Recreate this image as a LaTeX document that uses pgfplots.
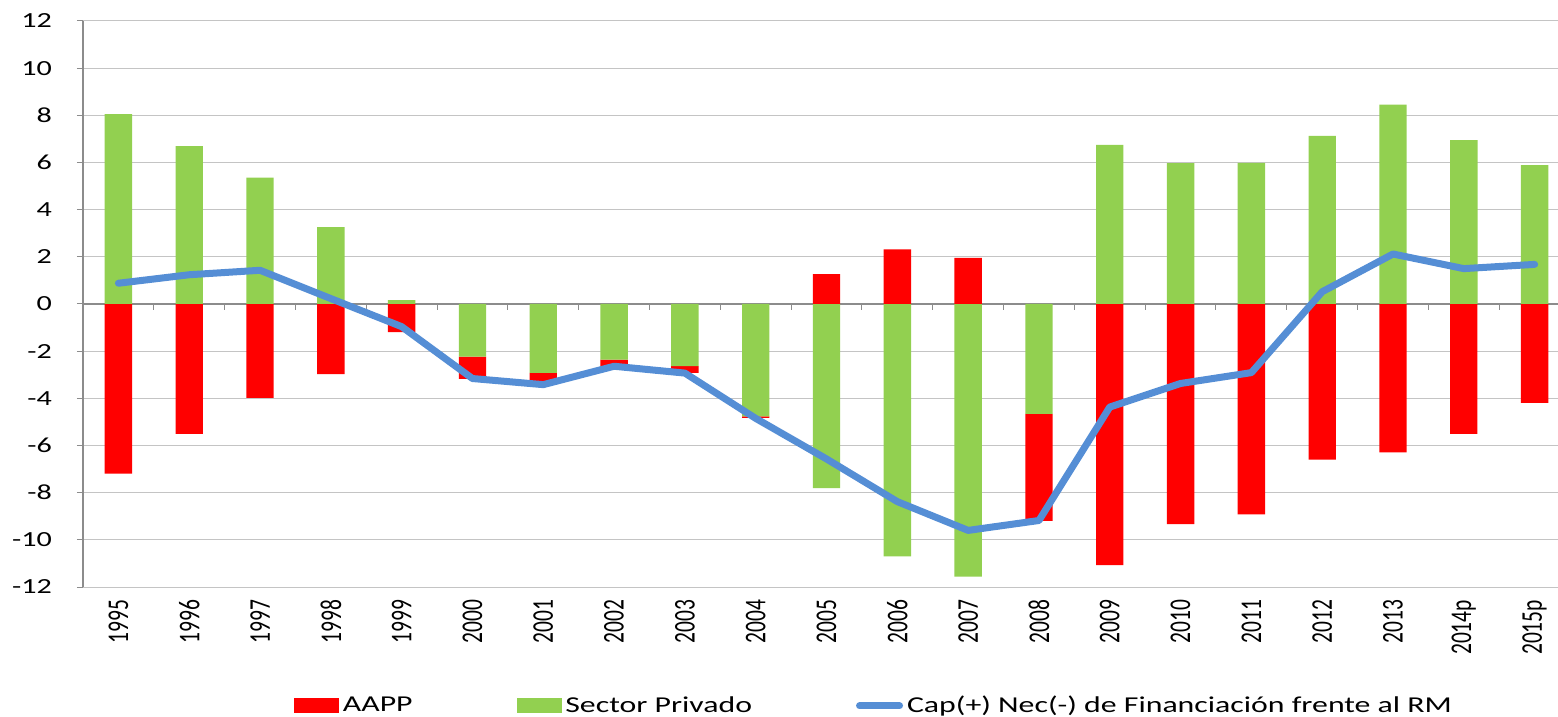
\documentclass[border=0pt]{standalone}
\usepackage{fontspec}
\setmainfont{Carlito}[FakeStretch=1.4]
\newfontfamily\rotfont{Carlito}[FakeStretch=0.714]
\usepackage{pgfplots}
\usepackage{pgfplotstable}
\pgfplotsset{compat=1.18}
\definecolor{aapp}{HTML}{FF0000}
\definecolor{priv}{HTML}{92D050}
\definecolor{capnec}{HTML}{558ED5}
\definecolor{gridc}{HTML}{C4C4C4}
\definecolor{axc}{HTML}{8C8C8C}

\pgfplotstableread{
x g r line
0 8.05 -7.19 0.88
1 6.69 -5.51 1.24
2 5.36 -3.98 1.43
3 3.26 -2.97 0.23
4 0.16 -1.19 -0.96
5 -2.23 -0.95 -3.16
6 -2.92 -0.43 -3.42
7 -2.36 -0.28 -2.64
8 -2.63 -0.29 -2.93
9 -4.76 -0.07 -4.85
10 -7.81 1.27 -6.57
11 -10.70 2.32 -8.38
12 -11.56 1.96 -9.60
13 -4.66 -4.54 -9.18
14 6.75 -11.07 -4.37
15 5.97 -9.33 -3.37
16 5.98 -8.92 -2.91
17 7.13 -6.60 0.52
18 8.45 -6.29 2.12
19 6.95 -5.51 1.50
20 5.89 -4.19 1.68
}\datatable

\begin{document}
\begin{tikzpicture}
\pgfplotsset{common/.style={width=737.5bp, height=283bp, scale only axis,
  xmin=-0.5, xmax=20.33, ymin=-12, ymax=12, bar width=0.386}}
% axis A: grid, ticks, negative stacks
\begin{axis}[common, name=A, ybar stacked,
  axis lines*=left, axis line style={-},
  x axis line style={draw=none},
  y axis line style={axc, line width=0.6bp},
  ytick={-12,-10,...,12}, ymajorgrids,
  grid style={gridc, line width=0.5bp},
  tick align=outside, major tick length=3bp,
  ytick style={axc, line width=0.5bp},
  xtick={0,...,20}, x tick style={draw=none},
  xticklabels={1995,1996,1997,1998,1999,2000,2001,2002,2003,2004,2005,2006,2007,2008,2009,2010,2011,2012,2013,2014p,2015p},
  xticklabel style={rotate=90, anchor=east, font=\rotfont\fontsize{15.1}{16}\selectfont},
  yticklabel style={font=\fontsize{10.8}{13}\selectfont, xshift=-9bp},
  /pgf/number format/assume math mode=true,
]
\addplot[fill=priv, draw=none] table[x=x, y expr={min(\thisrow{g},0)}] {\datatable};
\addplot[fill=aapp, draw=none] table[x=x, y expr={min(\thisrow{r},0)}] {\datatable};
\draw[axc, line width=0.6bp] (axis cs:-0.5,0) -- (axis cs:20.33,0);
\pgfplotsinvokeforeach{0.5,1.5,...,19.5}{\draw[axc, line width=0.5bp] (axis cs:#1,0) -- ([yshift=-3bp]axis cs:#1,0);}
\end{axis}
% axis B: positive stacks
\begin{axis}[common, hide axis, ybar stacked]
\addplot[fill=priv, draw=none] table[x=x, y expr={max(\thisrow{g},0)}] {\datatable};
\addplot[fill=aapp, draw=none] table[x=x, y expr={max(\thisrow{r},0)}] {\datatable};
\end{axis}
% axis C: line and legend
\begin{axis}[common, hide axis,
  legend style={at={(0.537,-0.21)}, anchor=center, draw=none, fill=none,
    font=\fontsize{11.4}{13}\selectfont,
    /tikz/every even column/.append style={column sep=50bp}},
  legend columns=3, legend cell align=left]
\addlegendimage{legend image code/.code={\fill[aapp] (0bp,-3.5bp) rectangle (22bp,3.5bp);}}
\addlegendentry{AAPP}
\addlegendimage{legend image code/.code={\fill[priv] (0bp,-3.5bp) rectangle (22bp,3.5bp);}}
\addlegendentry{Sector Privado}
\addplot[capnec, line width=3.5bp, line cap=round, line join=round,
  legend image code/.code={\draw[capnec, line width=3.5bp, line cap=round] (2bp,0bp) -- (22bp,0bp);}]
  table[x=x, y=line] {\datatable};
\addlegendentry{Cap(+) Nec(-) de Financiación frente al RM}
\end{axis}
\pgfresetboundingbox
\path[use as bounding box] ([xshift=-41.5bp,yshift=-65bp]A.south west) rectangle ([yshift=10.5bp]A.north east);
\end{tikzpicture}
\end{document}
